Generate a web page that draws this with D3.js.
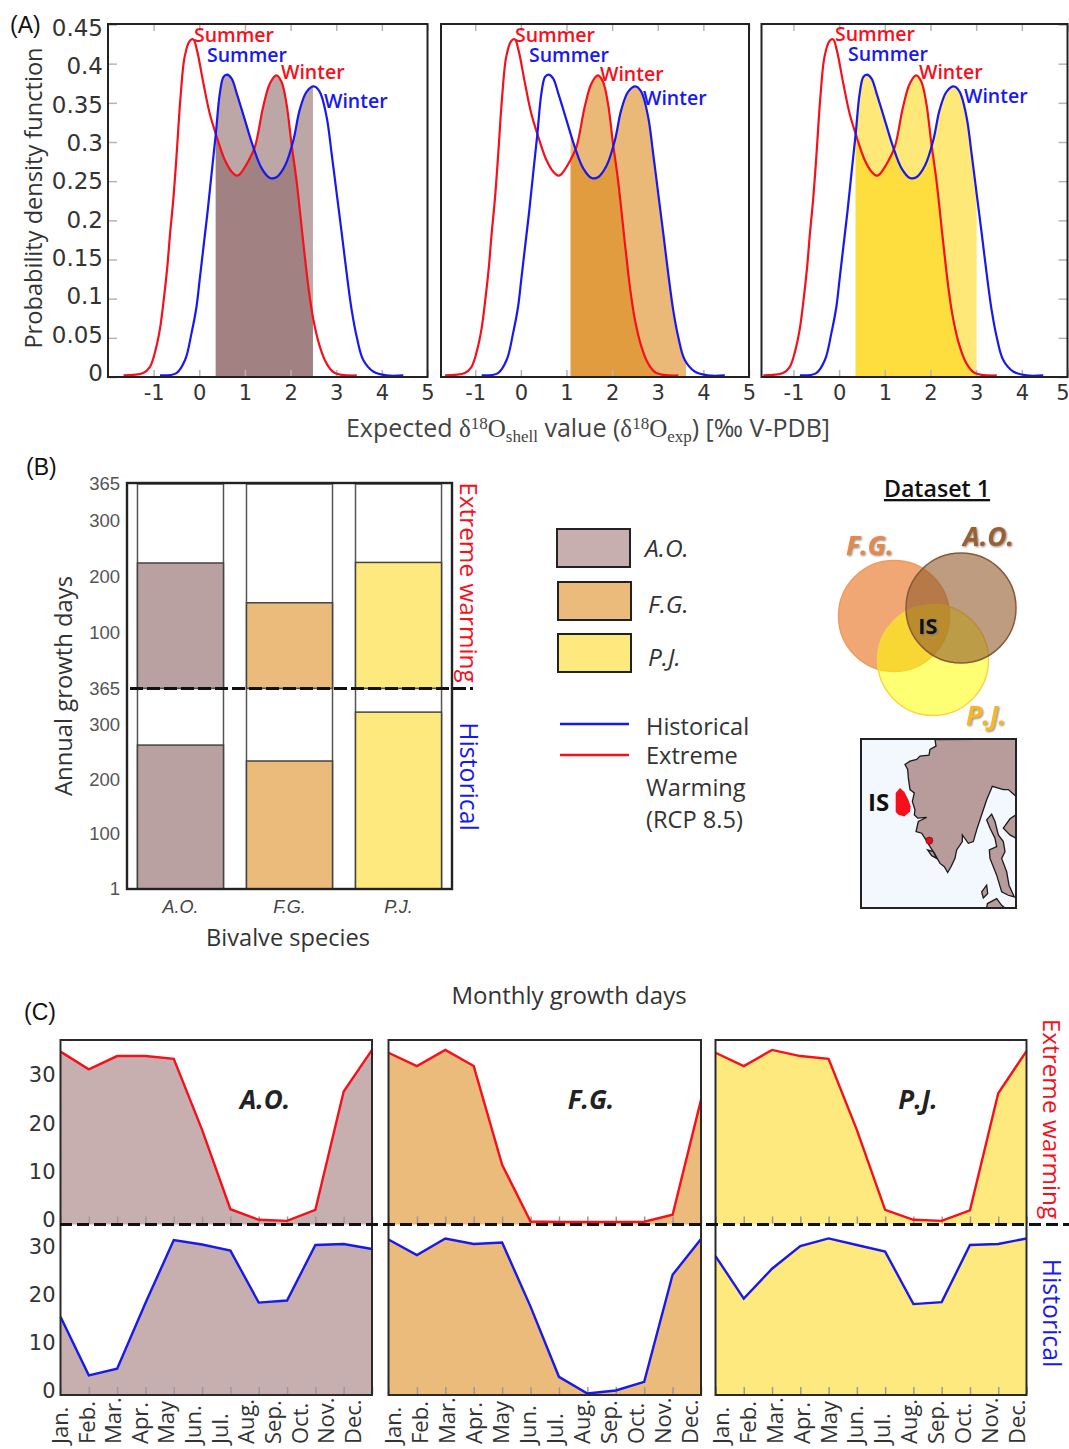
<!DOCTYPE html>
<html>
<head>
<meta charset="utf-8">
<script src="https://cdnjs.cloudflare.com/ajax/libs/d3/7.8.5/d3.min.js"></script>
<style>
  body { margin: 0; background: #fff; }
  text { font-family: "Open Sans", sans-serif; }
</style>
</head>
<body>
<div id="chart"></div>
<script>
// Panel A: density curves
const redX = [-1.66, -1.23, -1.08, -0.96, -0.86, -0.78, -0.70, -0.64, -0.57, -0.50, -0.41, -0.32, -0.21, -0.13, -0.05, 0.09, 0.23, 0.38, 0.56, 0.71, 0.82, 0.89, 1.07, 1.22, 1.40, 1.55, 1.69, 1.80, 1.91, 2.02, 2.13, 2.28, 2.39, 2.50, 2.64, 2.79, 2.97, 3.45];
const redY = [0.002, 0.005, 0.013, 0.034, 0.062, 0.098, 0.141, 0.183, 0.226, 0.281, 0.358, 0.409, 0.429, 0.431, 0.417, 0.375, 0.336, 0.307, 0.277, 0.262, 0.257, 0.259, 0.275, 0.294, 0.345, 0.375, 0.385, 0.377, 0.349, 0.298, 0.251, 0.171, 0.115, 0.073, 0.039, 0.017, 0.005, 0.002];
const blueX = [-0.86, -0.50, -0.31, -0.17, -0.06, 0.01, 0.09, 0.18, 0.27, 0.36, 0.45, 0.53, 0.61, 0.71, 0.82, 0.89, 1.0, 1.18, 1.37, 1.55, 1.69, 1.88, 2.06, 2.20, 2.35, 2.51, 2.64, 2.79, 2.90, 3.02, 3.12, 3.23, 3.34, 3.45, 3.59, 3.81, 4.10, 4.47];
const blueY = [0.002, 0.005, 0.022, 0.056, 0.09, 0.125, 0.165, 0.21, 0.26, 0.309, 0.362, 0.383, 0.386, 0.381, 0.362, 0.349, 0.328, 0.294, 0.266, 0.254, 0.255, 0.27, 0.302, 0.341, 0.364, 0.371, 0.364, 0.332, 0.285, 0.23, 0.184, 0.132, 0.085, 0.051, 0.022, 0.007, 0.002, 0.002];
const pdfTicks = [0, 0.05, 0.1, 0.15, 0.2, 0.25, 0.3, 0.35, 0.4, 0.45];
const deltaTicks = [-1, 0, 1, 2, 3, 4, 5];

// Shaded growth range per species
const species = ["A.O.", "F.G.", "P.J."];
const shadeFrom = [0.36, 1.09, 0.36];
const shadeTo = [2.49, 3.62, 3.01];

// Panel B: annual growth days
const annualExtreme = [224, 153, 225];
const annualHistorical = [262, 233, 322];
const annualTicks = [1, 100, 200, 300, 365];

// Panel C: monthly growth days
const months = ["Jan.", "Feb.", "Mar.", "Apr.", "May", "Jun.", "Jul.", "Aug.", "Sep.", "Oct.", "Nov.", "Dec."];
const extremeAO = [30.7, 27.5, 29.9, 29.9, 29.4, 16.6, 2.3, 0.4, 0.2, 2.2, 23.5, 31];
const extremeFG = [30.5, 28.1, 31, 28.1, 10.3, 0.1, 0, 0, 0, 0.05, 1.3, 22];
const extremePJ = [30.5, 28.1, 31, 29.9, 29.4, 16.6, 2.2, 0.4, 0.2, 2.1, 23.2, 30.8];
const historicalAO = [15.5, 3.9, 5.2, 18.2, 30.7, 29.8, 28.6, 18.3, 18.7, 29.7, 29.9, 28.9];
const historicalFG = [30.8, 27.7, 31, 29.9, 30.2, 17.5, 3.6, 0.3, 0.9, 2.6, 23.8, 30.9];
const historicalPJ = [27.5, 19.1, 25, 29.5, 31, 29.7, 28.4, 18, 18.4, 29.7, 29.9, 31];
const monthTicks = [0, 10, 20, 30];

// Map outline, traced in picture units
const landX = [240, 243, 225, 222, 195, 185, 165, 150, 158, 160, 165, 178, 172, 180, 178, 188, 215, 190, 183, 200, 213, 225, 240, 255, 268, 278, 288, 300, 305, 322, 322, 340, 355, 365, 380, 395, 412, 445, 460, 483, 483];
const landY = [16, 35, 45, 62, 65, 75, 80, 90, 105, 130, 165, 175, 200, 225, 240, 250, 248, 260, 290, 295, 315, 335, 358, 385, 395, 412, 395, 370, 345, 320, 300, 325, 320, 285, 240, 195, 155, 165, 165, 185, 14];
const isleAX = [395, 410, 420, 430, 445, 450, 440, 455, 462, 478, 460, 440, 425, 405, 403, 425, 420, 405];
const isleAY = [255, 238, 260, 300, 320, 350, 370, 410, 450, 485, 480, 470, 420, 370, 345, 335, 310, 280];
const isleBX = [445, 465, 483, 483, 465];
const isleBY = [280, 252, 240, 310, 300];
const isleCX = [397, 425, 440, 450, 395];
const isleCY = [505, 490, 510, 518, 518];
const isleDX = [218, 235, 245, 230];
const isleDY = [345, 350, 370, 362];
const isleEX = [380, 395, 398, 385];
const isleEY = [470, 450, 475, 488];
const patchX = [135, 148, 160, 167, 165, 148, 130, 122, 122];
const patchY = [160, 172, 195, 215, 230, 245, 240, 232, 175];

// Colours
const layerFill = ["#8e6666", "#da8716", "#fed716"];
const barFill = ["#b9a1a1", "#ebbb7b", "#fee97e"];
const monthFill = ["#c7afaf", "#ebbb7b", "#fee97e"];
const red = "#f5101c";
const blue = "#1818f0";
const ink = "#333";

const svg = d3.select("#chart").append("svg")
  .attr("width", 1069)
  .attr("height", 1449)
  .style("display", "block");
const defs = svg.append("defs");

function panelLetter(label, x, y) {
  svg.append("text").attr("x", x).attr("y", y)
    .style("font-family", "'Liberation Sans'").attr("font-size", 23).attr("fill", "#111")
    .text(label);
}

function sideLabel(label, x, cy, color, size) {
  svg.append("text")
    .attr("transform", `translate(${x},${cy}) rotate(90)`)
    .attr("text-anchor", "middle")
    .attr("font-size", size)
    .attr("fill", color)
    .text(label);
}

function innerTicks(sel) {
  sel.select(".domain").remove();
  sel.selectAll(".tick line").attr("stroke", "#b5b5b5").attr("stroke-width", 1.5);
}

// ---- Panel A ----
panelLetter("(A)", 10, 33);

const pdfTop = 24, pdfBottom = 377;
const yPdf = d3.scaleLinear().domain([0, 0.45]).range([pdfBottom, pdfTop + 0.5]);
// printed numbers are squeezed a little against their ticks in the original
const yPdfText = d3.scaleLinear().domain([0, 0.45]).range([373, 28]);
const redPts = redX.map((x, i) => [x, redY[i]]);
const bluePts = blueX.map((x, i) => [x, blueY[i]]);

const densityFrames = [
  { left: 108, right: 427.5, xMin: -2 },
  { left: 441, right: 749, xMin: -1.75 },
  { left: 761.5, right: 1067.5, xMin: -1.7 }
];
const curveLabels = [
  [[194, 42], [207, 62], [281, 79], [324, 108]],
  [[515, 42], [529, 62], [600, 81], [643, 105]],
  [[835, 41], [848, 61], [919, 79], [964, 103]]
];

densityFrames.forEach((f, i) => {
  const x = d3.scaleLinear().domain([f.xMin, 5]).range([f.left, f.right]);
  const g = svg.append("g");

  const clipId = "shade" + i;
  defs.append("clipPath").attr("id", clipId).append("rect")
    .attr("x", x(shadeFrom[i]))
    .attr("y", pdfTop)
    .attr("width", x(shadeTo[i]) - x(shadeFrom[i]))
    .attr("height", pdfBottom - pdfTop);

  const smooth = d3.curveCatmullRom.alpha(0.5);
  const area = d3.area().x(d => x(d[0])).y0(pdfBottom).y1(d => yPdf(d[1])).curve(smooth);
  const line = d3.line().x(d => x(d[0])).y(d => yPdf(d[1])).curve(smooth);

  // two see-through layers, the overlap comes out darker
  [redPts, bluePts].forEach(pts => {
    g.append("path").datum(pts)
      .attr("d", area)
      .attr("fill", layerFill[i])
      .attr("fill-opacity", 0.58)
      .attr("clip-path", `url(#${clipId})`);
  });

  // ticks point inwards
  g.append("g").attr("transform", `translate(0,${pdfTop})`)
    .call(d3.axisTop(x).tickValues(deltaTicks).tickSizeInner(-7).tickSizeOuter(0).tickFormat(""))
    .call(innerTicks);
  const bottom = g.append("g").attr("transform", `translate(0,${pdfBottom})`)
    .call(d3.axisBottom(x).tickValues(deltaTicks).tickSizeInner(-7).tickSizeOuter(0).tickPadding(8).tickFormat(d => d))
    .call(innerTicks);
  bottom.selectAll("text")
    .style("font-family", "'DejaVu Sans'").attr("font-size", 21).attr("fill", ink);
  // last label of the right panel would run off the page
  if (i === 2) bottom.selectAll("text").filter(d => d === 5).attr("dx", -5);

  if (i === 0) {
    g.append("g").attr("transform", `translate(${f.left},0)`)
      .call(d3.axisLeft(yPdf).tickValues(pdfTicks).tickSizeInner(-9).tickSizeOuter(0).tickFormat(""))
      .call(innerTicks);
    const labels = g.append("g").attr("transform", `translate(${f.left},0)`)
      .call(d3.axisLeft(yPdfText).tickValues(pdfTicks).tickSize(0).tickPadding(5).tickFormat(d => d));
    labels.select(".domain").remove();
    labels.selectAll("text")
      .style("font-family", "'DejaVu Sans'").attr("font-size", 23).attr("fill", ink);
  }
  if (i === 2) {
    g.append("g").attr("transform", `translate(${f.right},0)`)
      .call(d3.axisRight(yPdf).tickValues(pdfTicks).tickSizeInner(-9).tickSizeOuter(0).tickFormat(""))
      .call(innerTicks);
  }

  g.append("path").datum(redPts).attr("d", line).attr("fill", "none").attr("stroke", red).attr("stroke-width", 2.2);
  g.append("path").datum(bluePts).attr("d", line).attr("fill", "none").attr("stroke", blue).attr("stroke-width", 2.2);

  g.append("rect")
    .attr("x", f.left).attr("y", pdfTop)
    .attr("width", f.right - f.left).attr("height", pdfBottom - pdfTop)
    .attr("fill", "none").attr("stroke", "#222").attr("stroke-width", 2);

  const names = ["Summer", "Summer", "Winter", "Winter"];
  const colors = [red, blue, red, blue];
  names.forEach((n, j) => {
    g.append("text")
      .attr("x", curveLabels[i][j][0]).attr("y", curveLabels[i][j][1])
      .attr("font-size", 19.5).attr("font-weight", 600).attr("fill", colors[j])
      .text(n);
  });
});

svg.append("text")
  .attr("transform", "translate(42,198) rotate(-90)")
  .attr("text-anchor", "middle").attr("font-size", 23.6).attr("fill", ink)
  .text("Probability density function");

const xTitle = svg.append("text")
  .attr("x", 588).attr("y", 437)
  .attr("text-anchor", "middle").attr("font-size", 25).attr("fill", "#444");
xTitle.append("tspan").text("Expected ");
xTitle.append("tspan").style("font-family", "'Liberation Serif'").text("δ");
xTitle.append("tspan").style("font-family", "'Liberation Serif'").attr("font-size", 17).attr("dy", -8).text("18");
xTitle.append("tspan").style("font-family", "'Liberation Serif'").attr("dy", 8).text("O");
xTitle.append("tspan").style("font-family", "'Liberation Serif'").attr("font-size", 17).attr("dy", 5).text("shell");
xTitle.append("tspan").attr("dy", -5).text(" value (");
xTitle.append("tspan").style("font-family", "'Liberation Serif'").text("δ");
xTitle.append("tspan").style("font-family", "'Liberation Serif'").attr("font-size", 17).attr("dy", -8).text("18");
xTitle.append("tspan").style("font-family", "'Liberation Serif'").attr("dy", 8).text("O");
xTitle.append("tspan").style("font-family", "'Liberation Serif'").attr("font-size", 17).attr("dy", 5).text("exp");
xTitle.append("tspan").attr("dy", -5).text(") [‰ V-PDB]");

// ---- Panel B ----
panelLetter("(B)", 26, 475);

const barLeft = 127, barRight = 452, barTop = 484, barMid = 688.5, barBottom = 889;
const xSpecies = d3.scaleBand().domain(species).range([barLeft, barRight]).paddingInner(0.211).paddingOuter(0.096);
const yUpper = d3.scaleLinear().domain([0, 365]).range([barMid, barTop]);
const yLower = d3.scaleLinear().domain([0, 365]).range([barBottom, barMid]);

const barsG = svg.append("g");
[[annualExtreme, yUpper], [annualHistorical, yLower]].forEach(([vals, y]) => {
  // white column behind each bar, reaches the top of the scale
  barsG.selectAll(null).data(species).enter().append("rect")
    .attr("x", d => xSpecies(d)).attr("width", xSpecies.bandwidth())
    .attr("y", y(365)).attr("height", y(0) - y(365))
    .attr("fill", "#fff").attr("stroke", "#555").attr("stroke-width", 1.5);
  barsG.selectAll(null).data(vals).enter().append("rect")
    .attr("x", (d, i) => xSpecies(species[i])).attr("width", xSpecies.bandwidth())
    .attr("y", d => y(d)).attr("height", d => y(0) - y(d))
    .attr("fill", (d, i) => barFill[i]).attr("stroke", "#444").attr("stroke-width", 1.5);
});

barsG.append("rect")
  .attr("x", barLeft).attr("y", barTop - 1)
  .attr("width", barRight - barLeft).attr("height", barBottom - barTop + 1)
  .attr("fill", "none").attr("stroke", "#222").attr("stroke-width", 2.4);

[[yUpper, annualTicks.filter(d => d > 1)], [yLower, annualTicks]].forEach(([y, vals]) => {
  const ax = svg.append("g").attr("transform", `translate(${barLeft},0)`)
    .call(d3.axisLeft(y).tickValues(vals).tickSize(0).tickPadding(7));
  ax.select(".domain").remove();
  ax.selectAll("text").attr("font-size", 18.5).style("font-family", "'Liberation Sans'").attr("fill", "#555");
});

const xAxisB = svg.append("g").attr("transform", `translate(0,${barBottom})`)
  .call(d3.axisBottom(xSpecies).tickSize(0).tickPadding(11));
xAxisB.select(".domain").remove();
xAxisB.selectAll("text").attr("font-size", 18).attr("font-style", "italic").style("font-family", "'Liberation Sans'").attr("fill", "#444");

svg.append("text").attr("x", 288).attr("y", 946)
  .attr("text-anchor", "middle").attr("font-size", 23.6).attr("fill", ink)
  .text("Bivalve species");
svg.append("text")
  .attr("transform", "translate(72,686) rotate(-90)")
  .attr("text-anchor", "middle").attr("font-size", 23.8).attr("fill", ink)
  .text("Annual growth days");

sideLabel("Extreme warming", 460, 582.5, red, 24.4);
sideLabel("Historical", 460, 776.5, blue, 24.8);

svg.append("line")
  .attr("x1", 130).attr("x2", 473).attr("y1", barMid).attr("y2", barMid)
  .attr("stroke", "#111").attr("stroke-width", 3).attr("stroke-dasharray", "13,4");

// Legend
const swatches = [
  { x: 557, y: 529, w: 73, h: 38, tx: 645, ty: 557 },
  { x: 558, y: 582, w: 73, h: 38, tx: 648, ty: 613 },
  { x: 558, y: 634, w: 73, h: 38, tx: 648, ty: 666 }
];
species.forEach((s, i) => {
  const b = swatches[i];
  svg.append("rect").attr("x", b.x).attr("y", b.y).attr("width", b.w).attr("height", b.h)
    .attr("fill", monthFill[i]).attr("stroke", "#222").attr("stroke-width", 2);
  svg.append("text").attr("x", b.tx).attr("y", b.ty)
    .attr("font-size", 24.5).attr("font-style", "italic").attr("fill", ink).text(s);
});
[[724, blue], [755, red]].forEach(([y, c]) => {
  svg.append("line").attr("x1", 560).attr("x2", 629).attr("y1", y).attr("y2", y)
    .attr("stroke", c).attr("stroke-width", 2.5);
});
["Historical", "Extreme", "Warming", "(RCP 8.5)"].forEach((t, i) => {
  svg.append("text").attr("x", 646).attr("y", [735, 764, 796, 828][i])
    .attr("font-size", 23.6).attr("fill", ink).text(t);
});

// Venn + map
svg.append("text").attr("x", 937).attr("y", 497)
  .attr("text-anchor", "middle").attr("font-size", 23.2).attr("font-weight", 600)
  .attr("text-decoration", "underline").attr("fill", "#111").text("Dataset 1");

const venn = [
  { cx: 894, cy: 616, r: 55.5, fill: "#e98237", a: 0.7, stroke: "#ec9c60" },
  { cx: 933, cy: 660, r: 55.5, fill: "#ffff00", a: 0.55, stroke: "#fdd24a" },
  { cx: 961, cy: 608, r: 55, fill: "#915a2b", a: 0.6, stroke: "#8a5a38" }
];
svg.append("g").selectAll("circle").data(venn).enter().append("circle")
  .attr("cx", d => d.cx).attr("cy", d => d.cy).attr("r", d => d.r)
  .attr("fill", d => d.fill).attr("fill-opacity", d => d.a)
  .attr("stroke", d => d.stroke).attr("stroke-width", 1.5);

[["F.G.", 846, 555, "#e6884a"], ["A.O.", 963, 546, "#9c5f30"], ["P.J.", 966, 725, "#f5b822"]].forEach(([t, x, y, c]) => {
  svg.append("text").attr("x", x).attr("y", y)
    .attr("font-size", 26.5).attr("font-weight", 700).attr("font-style", "italic").attr("fill", c)
    .style("filter", "drop-shadow(1px 1px 1px #888)").text(t);
});
svg.append("text").attr("x", 928).attr("y", 634).attr("text-anchor", "middle")
  .attr("font-size", 22).attr("font-weight", 700).attr("fill", "#111")
  .style("filter", "drop-shadow(1px 1px 1px #777)").text("IS");

const mapLeft = 861, mapRight = 1016, mapTop = 739, mapBottom = 908;
const mapX = d3.scaleLinear().domain([18, 483]).range([mapLeft, mapRight]);
const mapY = d3.scaleLinear().domain([14, 518]).range([mapTop, mapBottom]);
const mapLine = d3.line().x(d => mapX(d[0])).y(d => mapY(d[1])).curve(d3.curveLinearClosed);
const zip = (a, b) => a.map((v, i) => [v, b[i]]);

defs.append("clipPath").attr("id", "mapClip").append("rect")
  .attr("x", mapLeft).attr("y", mapTop).attr("width", mapRight - mapLeft).attr("height", mapBottom - mapTop);
const mapG = svg.append("g");
mapG.append("rect").attr("x", mapLeft).attr("y", mapTop).attr("width", mapRight - mapLeft).attr("height", mapBottom - mapTop).attr("fill", "#f2f8fe");
const coast = mapG.append("g").attr("clip-path", "url(#mapClip)");
[zip(landX, landY), zip(isleAX, isleAY), zip(isleBX, isleBY), zip(isleCX, isleCY), zip(isleDX, isleDY), zip(isleEX, isleEY)].forEach(pts => {
  coast.append("path").datum(pts).attr("d", mapLine)
    .attr("fill", "#b89c9c").attr("stroke", "#1a1a1a").attr("stroke-width", 1.3);
});
coast.append("path").datum(zip(patchX, patchY)).attr("d", mapLine).attr("fill", "#f5101c");
coast.append("circle").attr("cx", mapX(223)).attr("cy", mapY(317)).attr("r", 3.6)
  .attr("fill", "#e0101c").attr("stroke", "#700").attr("stroke-width", 0.6);
mapG.append("rect").attr("x", mapLeft).attr("y", mapTop).attr("width", mapRight - mapLeft).attr("height", mapBottom - mapTop)
  .attr("fill", "none").attr("stroke", "#222").attr("stroke-width", 2);
svg.append("text").attr("x", 868).attr("y", 811).attr("font-size", 24).attr("font-weight", 700).attr("fill", "#111").text("IS");

// ---- Panel C ----
panelLetter("(C)", 24, 1020);

svg.append("text").attr("x", 569).attr("y", 1004).attr("text-anchor", "middle")
  .attr("font-size", 24).attr("fill", ink).text("Monthly growth days");

const monTop = 1040, monMid = 1224.5, monBottom = 1395;
const yExtreme = d3.scaleLinear().domain([0, 30]).range([1222, 1055.5]);
const yHistorical = d3.scaleLinear().domain([0, 30]).range([monBottom, 1243.5]);
// printed numbers sit a little off their ticks in the original
const yExtremeText = d3.scaleLinear().domain([0, 30]).range([1220, 1075]);
const yHistoricalText = d3.scaleLinear().domain([0, 30]).range([1391, 1247]);

const monthPanels = [
  { left: 60.5, right: 372, label: [60, 353], extreme: extremeAO, historical: historicalAO, cx: 265 },
  { left: 388.5, right: 701, label: [393, 690], extreme: extremeFG, historical: historicalFG, cx: 591 },
  { left: 715.5, right: 1026.5, label: [721, 1017], extreme: extremePJ, historical: historicalPJ, cx: 918 }
];

monthPanels.forEach((p, i) => {
  const x = d3.scalePoint().domain(months).range([p.left, p.right]);
  const xText = d3.scalePoint().domain(months).range(p.label);
  const g = svg.append("g");

  [[p.extreme, yExtreme, red, monMid], [p.historical, yHistorical, blue, monBottom]].forEach(([vals, y, color, base]) => {
    g.append("path").datum(vals)
      .attr("d", d3.area().x((d, j) => x(months[j])).y0(base).y1(d => y(d)))
      .attr("fill", monthFill[i]);
    const ticks = g.append("g").attr("transform", `translate(0,${base - 1})`)
      .call(d3.axisBottom(x).tickSizeInner(-7).tickSizeOuter(0).tickFormat(""))
      .call(innerTicks);
    ticks.selectAll(".tick line").attr("stroke", "#9a9a9a");
    g.append("path").datum(vals)
      .attr("d", d3.line().x((d, j) => x(months[j])).y(d => y(d)))
      .attr("fill", "none").attr("stroke", color).attr("stroke-width", 2.4);
  });

  g.append("rect")
    .attr("x", p.left).attr("y", monTop)
    .attr("width", p.right - p.left).attr("height", monBottom - monTop)
    .attr("fill", "none").attr("stroke", "#2a2a2a").attr("stroke-width", 2);

  g.selectAll(null).data(months).enter().append("text")
    .attr("transform", d => `translate(${xText(d)},1444) rotate(-90)`)
    .attr("dy", "0.36em")
    .attr("font-size", 22).attr("fill", ink)
    .text(d => d);

  g.append("text").attr("x", p.cx).attr("y", 1109).attr("text-anchor", "middle")
    .attr("font-size", 26).attr("font-weight", 700).attr("font-style", "italic").attr("fill", "#222")
    .text(species[i]);
});

[[yExtremeText, monthTicks], [yHistoricalText, monthTicks]].forEach(([y, vals]) => {
  const ax = svg.append("g").attr("transform", "translate(60.5,0)")
    .call(d3.axisLeft(y).tickValues(vals).tickSize(0).tickPadding(5));
  ax.select(".domain").remove();
  ax.selectAll("text").attr("font-size", 21).style("font-family", "'DejaVu Sans'").attr("fill", ink);
});

svg.append("line")
  .attr("x1", 60).attr("x2", 1069).attr("y1", monMid).attr("y2", monMid)
  .attr("stroke", "#111").attr("stroke-width", 3.2).attr("stroke-dasharray", "12,5");

sideLabel("Extreme warming", 1043, 1119, red, 24.4);
sideLabel("Historical", 1043, 1313, blue, 24.8);
</script>
</body>
</html>
